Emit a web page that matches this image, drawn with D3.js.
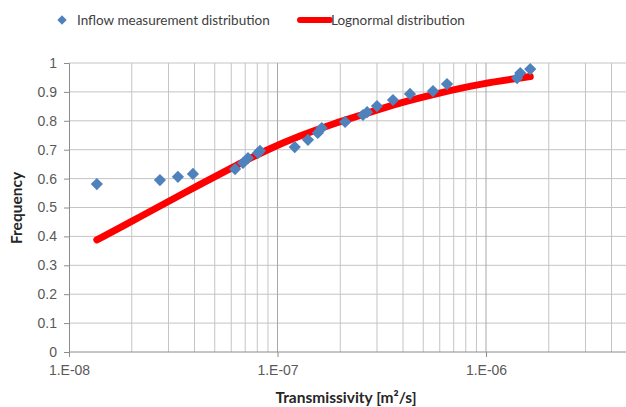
<!DOCTYPE html>
<html>
<head>
  <meta charset="utf-8">
  <title>Transmissivity frequency</title>
  <script type="text/javascript" src="https://cdn.jsdelivr.net/npm/d3@7"></script>
  <style>
    body { margin: 0; background: #fff; }
    svg { display: block; font-family: Lato, 'Open Sans', sans-serif; }
  </style>
</head>
<body>
<div id="chart"></div>

<script type="text/javascript">
// measured points (transmissivity m2/s, frequency)
var inflowT = [1.36e-8, 2.73e-8, 3.33e-8, 3.93e-8, 6.26e-8, 6.83e-8, 7.22e-8, 8.06e-8, 8.24e-8,
  1.21e-7, 1.40e-7, 1.56e-7, 1.63e-7, 2.11e-7, 2.57e-7, 2.69e-7, 3.00e-7, 3.58e-7,
  4.32e-7, 5.57e-7, 6.50e-7, 1.41e-6, 1.46e-6, 1.63e-6];
var inflowF = [0.581, 0.595, 0.606, 0.616, 0.633, 0.654, 0.671, 0.689, 0.696,
  0.709, 0.734, 0.758, 0.775, 0.796, 0.820, 0.830, 0.851, 0.872,
  0.893, 0.903, 0.927, 0.948, 0.965, 0.979];
// lognormal curve
var lognT = [1.36e-8, 2.0e-8, 2.73e-8, 4.25e-8, 6.12e-8, 8.9e-8, 1.28e-7, 1.85e-7, 2.69e-7, 3.74e-7, 6.02e-7, 9.36e-7, 1.63e-6];
var lognF = [0.388, 0.452, 0.505, 0.580, 0.640, 0.700, 0.748, 0.790, 0.826, 0.860, 0.897, 0.928, 0.953];
var xTicks = [1e-8, 1e-7, 1e-6];
var yTicks = [0, 0.1, 0.2, 0.3, 0.4, 0.5, 0.6, 0.7, 0.8, 0.9, 1];

var w = 626, h = 407;
var svg = d3.select('#chart').append('svg')
  .attr('width', w)
  .attr('height', h);

var x = d3.scaleLog().domain([1e-8, 5e-6]).range([69, 69 + 208.5 * Math.log10(500)]);
var y = d3.scaleLinear().domain([0, 1]).range([352, 63]);

// grid
var grid = svg.append('g');
grid.selectAll('line.h')
  .data(yTicks.slice(1))
  .enter().append('line')
  .attr('x1', 69).attr('x2', w)
  .attr('y1', function(d){ return y(d); })
  .attr('y2', function(d){ return y(d); })
  .attr('stroke', '#c4c4c4');
grid.selectAll('line.v')
  .data(x.ticks().filter(function(d){ return d > 1e-8; }))
  .enter().append('line')
  .attr('x1', function(d){ return x(d); })
  .attr('x2', function(d){ return x(d); })
  .attr('y1', 63).attr('y2', 352)
  .attr('stroke', function(d){ return xTicks.indexOf(d) >= 0 ? '#a8a8a8' : '#c4c4c4'; });

// axes
var yAxis = svg.append('g')
  .attr('transform', 'translate(69,0)')
  .call(d3.axisLeft(y).tickValues(yTicks).tickSize(5).tickPadding(7)
    .tickFormat(function(d){ return d === 0 || d === 1 ? d3.format('d')(d) : d3.format('.1f')(d); }));
yAxis.select('.domain').attr('stroke', '#8c8c8c');
yAxis.selectAll('.tick line').attr('stroke', '#8c8c8c');

var xAxis = svg.append('g')
  .attr('transform', 'translate(0,352)')
  .call(d3.axisBottom(x).tickValues(xTicks).tickSize(5).tickPadding(8)
    .tickFormat(function(d){ return '1.E-' + d3.format('02d')(Math.round(-Math.log10(d))); }));
xAxis.select('.domain').attr('stroke', '#8c8c8c').attr('d', 'M69,0H' + w);
xAxis.selectAll('.tick line').attr('stroke', '#8c8c8c');
svg.selectAll('.tick text').style('font-size', '14px').attr('fill', '#595959');

// lognormal line
var line = d3.line()
  .x(function(d){ return x(d[0]); })
  .y(function(d){ return y(d[1]); })
  .curve(d3.curveBasis);
svg.append('path')
  .datum(d3.zip(lognT, lognF))
  .attr('d', line)
  .attr('fill', 'none')
  .attr('stroke', '#ff0000')
  .attr('stroke-width', 7)
  .attr('stroke-linecap', 'round');

// measurement diamonds
var diamond = d3.symbol().type(d3.symbolDiamond2).size(95);
svg.selectAll('path.pt')
  .data(d3.zip(inflowT, inflowF))
  .enter().append('path')
  .attr('class', 'pt')
  .attr('transform', function(d){ return 'translate(' + x(d[0]) + ',' + y(d[1]) + ')'; })
  .attr('d', diamond)
  .attr('fill', '#4f81bd');

// axis titles
svg.append('text')
  .attr('x', 346).attr('y', 403)
  .attr('text-anchor', 'middle')
  .attr('font-size', '15.5px')
  .attr('font-weight', 'bold')
  .attr('fill', '#262626')
  .text('Transmissivity [m²/s]');
svg.append('text')
  .attr('transform', 'translate(22,208) rotate(-90)')
  .attr('text-anchor', 'middle')
  .attr('font-size', '15.5px')
  .attr('font-weight', 'bold')
  .attr('fill', '#262626')
  .text('Frequency');

// legend
var legend = svg.append('g').attr('font-size', '13.5px').attr('fill', '#404040');
legend.append('path')
  .attr('transform', 'translate(62,20)')
  .attr('d', d3.symbol().type(d3.symbolDiamond2).size(55))
  .attr('fill', '#4f81bd');
legend.append('text').attr('x', 77).attr('y', 25).text('Inflow measurement distribution');
legend.append('line')
  .attr('x1', 300).attr('x2', 330).attr('y1', 20).attr('y2', 20)
  .attr('stroke', '#ff0000').attr('stroke-width', 6).attr('stroke-linecap', 'round');
legend.append('text').attr('x', 331).attr('y', 25).text('Lognormal distribution');
</script>
</body>
</html>
